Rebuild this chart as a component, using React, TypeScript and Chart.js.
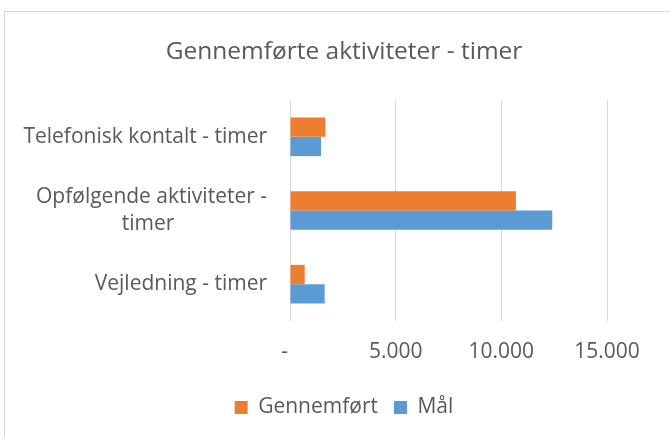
import React, { useEffect, useRef } from "react";
import { Chart, registerables } from "chart.js";

Chart.register(...registerables);

const categories: (string | string[])[] = [
  "Telefonisk kontalt - timer",
  ["Opfølgende aktiviteter -", "timer" + " ".repeat(17)],
  "Vejledning - timer",
];
const gennemfoertValues = [1675, 10690, 695];
const maalValues = [1470, 12410, 1640];
const seriesNames = ["Gennemført", "Mål"];
const titleText = "Gennemførte aktiviteter - timer";
const xTickValues = [0, 5000, 10000, 15000];

const FONT = "'Open Sans', sans-serif";
const TEXT = "#595959";

function fmt(v: number): string {
  if (v === 0) return "-  ";
  return String(v).replace(/\B(?=(\d{3})+(?!\d))/g, ".");
}

export default function App() {
  const ref = useRef<HTMLCanvasElement | null>(null);
  useEffect(() => {
    document.body.style.margin = "0";
    const canvas = ref.current!;
    const chart = new Chart(canvas, {
      type: "bar",
      data: {
        labels: categories,
        datasets: [
          {
            label: seriesNames[0],
            data: gennemfoertValues,
            backgroundColor: "#ED7D31",
            borderWidth: 0,
            categoryPercentage: 0.524,
            barPercentage: 1,
          },
          {
            label: seriesNames[1],
            data: maalValues,
            backgroundColor: "#5B9BD5",
            borderWidth: 0,
            categoryPercentage: 0.524,
            barPercentage: 1,
          },
        ],
      },
      options: {
        indexAxis: "y",
        responsive: false,
        animation: false,
        devicePixelRatio: 1,
        layout: { padding: { left: 0, right: 0, top: 0, bottom: 9 } },
        plugins: {
          title: {
            display: true,
            text: titleText,
            color: TEXT,
            font: { family: FONT, size: 24.5, weight: "normal", lineHeight: 1.2 },
            padding: { top: 37, bottom: 33.6 },
          },
          legend: {
            display: true,
            position: "bottom",
            labels: {
              color: TEXT,
              font: { family: FONT, size: 21 },
              boxWidth: 13,
              boxHeight: 13,
              padding: 16,
            },
          },
          tooltip: { enabled: false },
        },
        scales: {
          x: {
            type: "linear",
            min: 0,
            max: 15000,
            afterBuildTicks: (scale: any) => {
              scale.ticks = xTickValues.map((v) => ({ value: v }));
            },
            afterFit: (scale: any) => {
              scale.height = 60;
            },
            ticks: {
              color: TEXT,
              font: { family: FONT, size: 21, lineHeight: 1.2 },
              padding: 18,
              maxRotation: 0,
              autoSkip: false,
              callback: (v: any) => fmt(Number(v)),
            },
            grid: { color: "#D9D9D9", lineWidth: 1, drawTicks: false },
            border: { display: false },
          },
          y: {
            afterFit: (scale: any) => {
              scale.width = 286;
            },
            ticks: {
              color: TEXT,
              font: { family: FONT, size: 21, lineHeight: 1.3 },
              padding: 23,
              autoSkip: false,
            },
            grid: { display: false, drawTicks: false },
            border: { display: false },
          },
          yRight: {
            type: "linear",
            position: "right",
            afterFit: (scale: any) => {
              scale.width = 77;
            },
            ticks: { display: false },
            grid: { display: false, drawTicks: false },
            border: { display: false },
          },
        },
      },
    });
    return () => chart.destroy();
  }, []);

  return (
    <div
      style={{
        position: "relative",
        width: 670,
        height: 437,
        overflow: "hidden",
        background: "#ffffff",
      }}
    >
      <div
        style={{
          position: "absolute",
          left: 4,
          top: 11,
          width: 720,
          height: 520,
          border: "1px solid #D9D9D9",
        }}
      />
      <canvas
        ref={ref}
        width={680}
        height={437}
        style={{ position: "absolute", left: 4, top: 0 }}
      />
    </div>
  );
}
